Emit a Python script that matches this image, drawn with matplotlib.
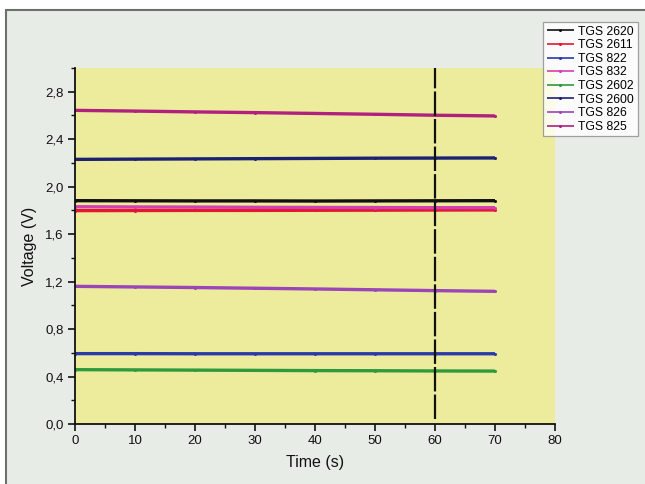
import matplotlib
matplotlib.use("Agg")
import matplotlib.pyplot as plt
from matplotlib.patches import Rectangle
from matplotlib.ticker import MultipleLocator, FuncFormatter

plt.rcParams['font.family'] = ['Liberation Sans', 'DejaVu Sans']

# Sensor output voltages sampled over the measurement window
time_s = [0, 10, 20, 30, 40, 50, 60, 70]
tgs2620 = [1.882, 1.881, 1.880, 1.880, 1.879, 1.880, 1.881, 1.882]
tgs2611 = [1.798, 1.799, 1.800, 1.800, 1.801, 1.802, 1.803, 1.804]
tgs822 = [0.593, 0.593, 0.592, 0.592, 0.592, 0.592, 0.592, 0.592]
tgs832 = [1.831, 1.829, 1.828, 1.826, 1.825, 1.824, 1.823, 1.823]
tgs2602 = [0.458, 0.456, 0.454, 0.452, 0.450, 0.449, 0.447, 0.446]
tgs2600 = [2.230, 2.232, 2.234, 2.236, 2.238, 2.240, 2.241, 2.242]
tgs826 = [1.160, 1.155, 1.150, 1.144, 1.138, 1.131, 1.124, 1.118]
tgs825 = [2.643, 2.637, 2.630, 2.624, 2.617, 2.610, 2.602, 2.596]

series_names = ['TGS 2620', 'TGS 2611', 'TGS 822', 'TGS 832',
                'TGS 2602', 'TGS 2600', 'TGS 826', 'TGS 825']
series_values = [tgs2620, tgs2611, tgs822, tgs832,
                 tgs2602, tgs2600, tgs826, tgs825]
series_colors = ['#111111', '#e3172f', '#2b3aa8', '#d43fb2',
                 '#2f9a3c', '#1b2273', '#9a45b8', '#b1207f']

event_time = 60

fig = plt.figure(figsize=(6.45, 4.84), dpi=100, facecolor='white')

# grey panel behind the chart
fig.patches.append(Rectangle((6 / 645, -0.05), 1.1, 1 - 10 / 484 + 0.05,
                             transform=fig.transFigure, facecolor='#e8ece7',
                             edgecolor='#6f6f6f', linewidth=1.5, zorder=-10))

ax = fig.add_axes([75 / 645, (484 - 424) / 484, 480 / 645, 356 / 484])
ax.set_facecolor('#ecec9c')

for name, vals, col in zip(series_names, series_values, series_colors):
    ax.plot(time_s, vals, color=col, lw=2.4, marker='o', markersize=2.2,
            markeredgewidth=0, label=name, solid_capstyle='butt')

ax.axvline(event_time, ymin=0.015, ymax=1, color='#111111', lw=1.6,
           linestyle=(0, (11, 1.4)))

ax.set_xlim(0, 80)
ax.set_ylim(0, 3.0)
ax.xaxis.set_major_locator(MultipleLocator(10))
ax.xaxis.set_minor_locator(MultipleLocator(5))
ax.yaxis.set_major_locator(MultipleLocator(0.4))
ax.yaxis.set_minor_locator(MultipleLocator(0.2))
ax.yaxis.set_major_formatter(FuncFormatter(lambda v, p: f"{v:.1f}".replace('.', ',')))
ax.xaxis.set_major_formatter(FuncFormatter(lambda v, p: f"{v:.0f}"))

for side in ('top', 'right'):
    ax.spines[side].set_visible(False)
for side in ('left', 'bottom'):
    ax.spines[side].set_linewidth(1.3)
    ax.spines[side].set_color('#111111')

ax.tick_params(which='major', direction='out', length=5, width=1.2,
               labelsize=9.5, colors='#111111', pad=3)
ax.tick_params(which='minor', direction='out', length=3, width=1.0,
               colors='#111111')

ax.set_xlabel('Time (s)', fontsize=11.5, labelpad=6, color='#111111')
ax.set_ylabel('Voltage (V)', fontsize=11.5, labelpad=6, color='#111111')

leg = fig.legend(loc='upper left', bbox_to_anchor=(543 / 645, 1 - 22 / 484),
                 fontsize=8.8, frameon=True, fancybox=False, handlelength=2.2,
                 handletextpad=0.4, labelspacing=0.13, borderpad=0.3,
                 borderaxespad=0)
leg.get_frame().set_edgecolor('#8a8a8a')
leg.get_frame().set_linewidth(0.9)
leg.get_frame().set_facecolor('white')
for line in leg.get_lines():
    line.set_linewidth(1.2)

fig.savefig('out.png', dpi=100, facecolor=fig.get_facecolor())
